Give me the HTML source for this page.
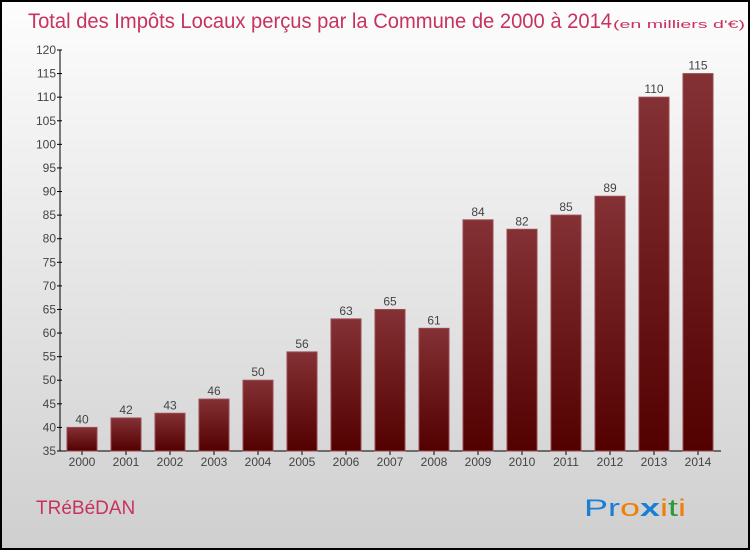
<!DOCTYPE html>
<html><head><meta charset="utf-8"><style>
body{margin:0;width:750px;height:550px;overflow:hidden;font-family:"Liberation Sans",sans-serif}
</style></head><body>
<svg width="750" height="550" xmlns="http://www.w3.org/2000/svg">
<defs>
<linearGradient id="bg" x1="0" y1="0" x2="0" y2="1"><stop offset="0" stop-color="#fdfdfd"/><stop offset="1" stop-color="#cfcfcf"/></linearGradient>
<linearGradient id="bar" x1="0" y1="0" x2="0" y2="1"><stop offset="0" stop-color="#843135"/><stop offset="1" stop-color="#520000"/></linearGradient>
</defs>
<rect x="1" y="1" width="748" height="548" fill="url(#bg)" stroke="#000" stroke-width="2"/>
<text x="28" y="28" font-size="21" fill="#c8325f" textLength="584" lengthAdjust="spacingAndGlyphs">Total des Impôts Locaux perçus par la Commune de 2000 à 2014</text>
<text x="613" y="28" font-size="11" fill="#c8325f" textLength="132" lengthAdjust="spacingAndGlyphs">(en milliers d'€)</text>
<g id="axes"></g><g id="bars"></g>
<text x="36" y="514" font-size="19" fill="#c8325f">TRéBéDAN</text>
<text x="584" y="516" font-size="24" textLength="102" lengthAdjust="spacingAndGlyphs"><tspan fill="#1a7fd4">Pr</tspan><tspan fill="#f07f0a">o</tspan><tspan fill="#1a7fd4" font-weight="bold">x</tspan><tspan fill="#f07f0a">i</tspan><tspan fill="#2a9a3a">t</tspan><tspan fill="#f07f0a">i</tspan></text>
</svg>
<script>
const years=["2000","2001","2002","2003","2004","2005","2006","2007","2008","2009","2010","2011","2012","2013","2014"];
const values=[40,42,43,46,50,56,63,65,61,84,82,85,89,110,115];
const yTicks=[35,40,45,50,55,60,65,70,75,80,85,90,95,100,105,110,115,120];
const NS="http://www.w3.org/2000/svg";
const y0=451,y1=50,vmin=35,vmax=120;
const ys=v=>y0-(v-vmin)*(y0-y1)/(vmax-vmin);
const xs=i=>82+i*44;
function mk(t,a,p){const e=document.createElementNS(NS,t);for(const k in a)e.setAttribute(k,a[k]);p.appendChild(e);return e;}
const ax=document.getElementById('axes'),bg=document.getElementById('bars');
let l=mk('line',{x1:60,y1:y1,x2:60,y2:y0,stroke:'#000'},ax);


l=mk('line',{x1:60,y1:y0,x2:721,y2:y0,stroke:'#000'},ax);


yTicks.forEach(v=>{const y=ys(v);
mk('line',{x1:57,y1:y,x2:62,y2:y,stroke:'#000'},ax);
const t=mk('text',{x:56,y:y+4,'font-size':12,'text-anchor':'end',fill:'#444'},ax);t.textContent=v;

});
years.forEach((yr,i)=>{const x=xs(i),v=values[i];
mk('line',{x1:x,y1:y0,x2:x,y2:y0+4,stroke:'#000'},ax);
const t=mk('text',{x:x,y:466,'font-size':12,'text-anchor':'middle',fill:'#444'},ax);t.textContent=yr;


const r=mk('rect',{x:x-15,y:ys(v),width:30,height:y0-ys(v),fill:'url(#bar)',stroke:'#9a4a50','stroke-width':1},bg);


const lb=mk('text',{x:x,y:ys(v)-4,'font-size':12,'text-anchor':'middle',fill:'#444'},bg);lb.textContent=v;

});
</script>
</body></html>
